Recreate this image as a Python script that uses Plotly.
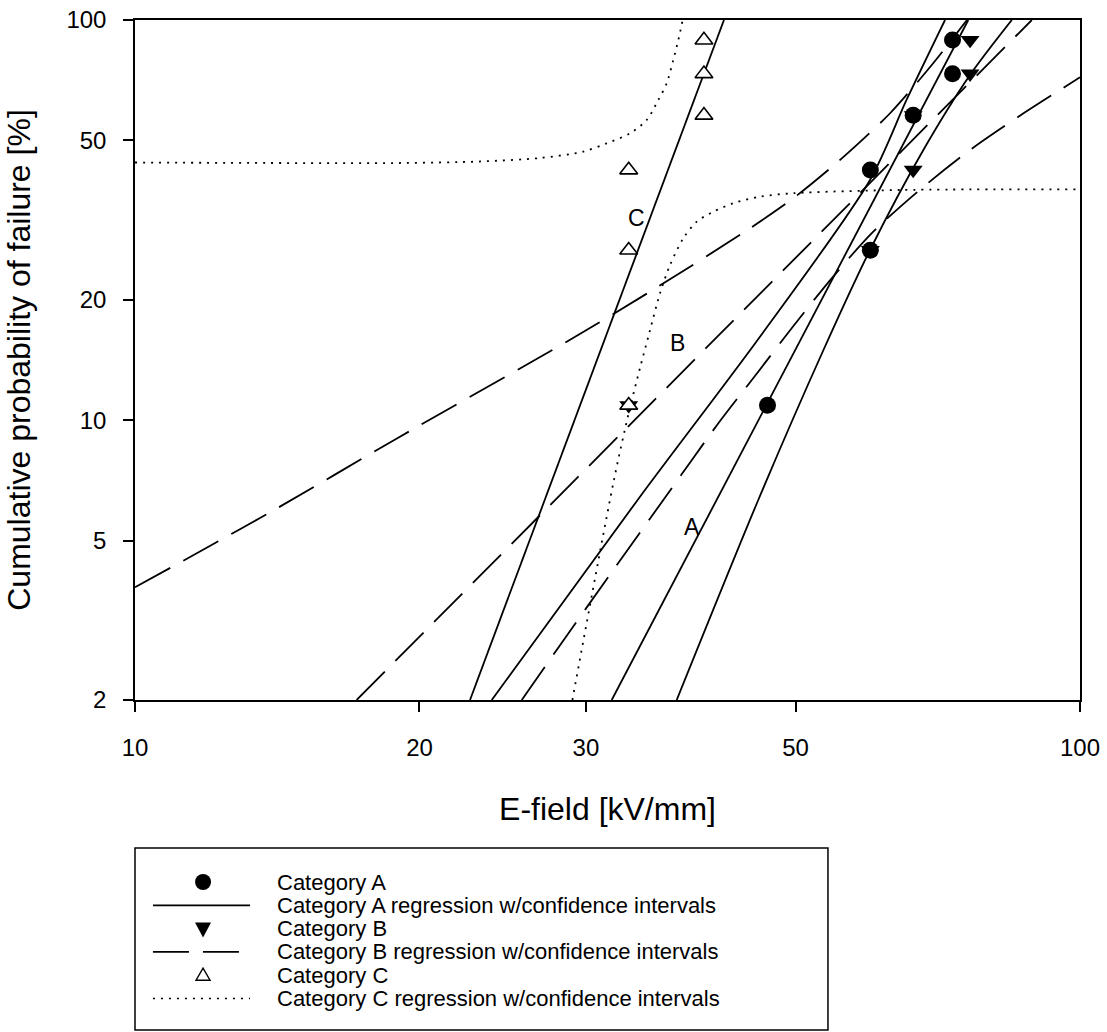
import numpy as np
import plotly.graph_objects as go

# ---------------- data ----------------
prob = [10.9, 26.6, 42.2, 57.8, 73.4, 89.1]          # cumulative probability [%]
a_field = [46.7, 60.0, 60.0, 66.6, 73.3, 73.3]       # Category A, kV/mm
b_field = [33.3, 60.0, 66.6, 66.6, 76.5, 76.5]       # Category B
c_field = [33.3, 33.3, 33.3, 40.0, 40.0, 40.0]       # Category C

# Category A regression and confidence bands
a_reg_x = [31.95, 76.17]
a_reg_y = [2, 100]
a_ciu_x = [23.85, 34.23, 45.85, 59.95, 65.6, 71.97]
a_ciu_y = [2, 6.442, 16.17, 39.84, 63.48, 100]
a_cil_x = [37.43, 45.66, 53.52, 59.95, 68.27, 76.49, 84.69]
a_cil_y = [2, 6.321, 14.98, 26.63, 47.34, 72.88, 100]

# Category B regression and confidence bands
b_reg_x = [17.16, 88.92]
b_reg_y = [2, 100]
b_ciu_x = [10.0, 13.78, 19.07, 28.63, 35.07, 44.20, 49.72, 54.41, 57.79, 62.95, 69.68, 75.93]
b_ciu_y = [3.825, 5.822, 9.096, 15.71, 20.95, 29.59, 35.86, 42.61, 48.25, 58.48, 77.19, 100]
b_cil_x = [25.66, 27.94, 32.07, 36.23, 41.43, 45.29, 49.53, 54.41, 60.43, 68.0, 76.49, 86.06, 96.81, 100.0]
b_cil_y = [2, 2.667, 4.226, 6.321, 9.826, 12.90, 16.97, 22.40, 29.59, 37.98, 47.34, 57.32, 68.53, 71.96]

# Category C regression and confidence bands
c_reg_x = [22.62, 42.0]
c_reg_y = [2, 100]
c_ciu_x = [10.0, 19.07, 23.18, 26.83, 29.79, 31.56, 33.41, 34.79, 35.79, 36.53, 37.12, 37.58, 37.98]
c_ciu_y = [44.05, 43.93, 44.31, 45.21, 46.88, 49.20, 52.11, 56.25, 63.11, 69.48, 79.44, 89.15, 100]
c_cil_x = [29.03, 32.07, 33.30, 34.23, 34.93, 35.94, 36.83, 38.04, 39.30, 40.92, 42.96, 45.85, 49.72, 64.5, 100.0]
c_cil_y = [2, 6.958, 10.43, 13.51, 16.17, 20.76, 24.43, 28.49, 31.34, 33.19, 34.84, 36.19, 36.92, 37.61, 37.76]

# in-plot labels
label_text = ["A", "B", "C"]
label_x = [38.86, 37.46, 33.90]
label_y = [5.41, 15.6, 32.0]

x_ticks = [10, 20, 30, 50, 100]
y_ticks = [2, 5, 10, 20, 50, 100]

legend_labels = [
    "Category A",
    "Category A regression w/confidence intervals",
    "Category B",
    "Category B regression w/confidence intervals",
    "Category C",
    "Category C regression w/confidence intervals",
]

FONT = "Arial, Liberation Sans, Helvetica, sans-serif"
LW = 1.8
DASH = "40px,15px"
DOT = "2px,6px"

fig = go.Figure()


def add_line(x, y, dash, spline=False):
    fig.add_trace(go.Scatter(
        x=x, y=y, mode="lines",
        line=dict(color="black", width=LW, dash=dash,
                  shape="spline" if spline else "linear", smoothing=0.8),
        showlegend=False, hoverinfo="skip"))


# Category A lines (solid)
add_line(a_reg_x, a_reg_y, "solid")
add_line(a_ciu_x, a_ciu_y, "solid", True)
add_line(a_cil_x, a_cil_y, "solid", True)
# Category B lines (dashed)
add_line(b_reg_x, b_reg_y, DASH)
add_line(b_ciu_x, b_ciu_y, DASH, True)
add_line(b_cil_x, b_cil_y, DASH, True)
# Category C lines (solid regression, dotted bands)
add_line(c_reg_x, c_reg_y, "solid")
add_line(c_ciu_x, c_ciu_y, DOT, True)
add_line(c_cil_x, c_cil_y, DOT, True)

# markers: B below A, C on top
fig.add_trace(go.Scatter(x=b_field, y=prob, mode="markers", name="Category B",
                         marker=dict(symbol="triangle-down", size=16.5, color="black",
                                     line=dict(width=0)), showlegend=False))
fig.add_trace(go.Scatter(x=a_field, y=prob, mode="markers", name="Category A",
                         marker=dict(symbol="circle", size=17, color="black",
                                     line=dict(width=0)), showlegend=False))
fig.add_trace(go.Scatter(x=c_field, y=prob, mode="markers", name="Category C",
                         marker=dict(symbol="triangle-up", size=15.5, color="white",
                                     line=dict(width=1.6, color="black")), showlegend=False))

annotations = []
for t, lx, ly in zip(label_text, label_x, label_y):
    annotations.append(dict(x=np.log10(lx), y=np.log10(ly), xref="x", yref="y",
                            text=t, showarrow=False,
                            font=dict(family=FONT, size=23, color="black")))

# ---------------- custom legend ----------------
leg_left, leg_right = 0.0, 0.7333
leg_top, leg_bottom = -0.2176, -0.4853
row_y = [-0.26765, -0.30191, -0.33618, -0.37044, -0.40471, -0.43897]
text_x = 0.1481
sym_x = 0.0720
line_x0, line_x1 = 0.019, 0.1217

shapes = [dict(type="rect", xref="paper", yref="paper",
               x0=leg_left, x1=leg_right, y0=leg_bottom, y1=leg_top,
               line=dict(color="black", width=1.5), fillcolor="rgba(0,0,0,0)")]

for lbl, ry in zip(legend_labels, row_y):
    annotations.append(dict(x=text_x, y=ry, xref="paper", yref="paper",
                            xanchor="left", yanchor="middle", text=lbl,
                            showarrow=False,
                            font=dict(family=FONT, size=22, color="black")))

# legend symbols
shapes.append(dict(type="circle", xref="paper", yref="paper",
                   xsizemode="pixel", ysizemode="pixel",
                   xanchor=sym_x, yanchor=row_y[0], x0=-8, x1=8, y0=-8, y1=8,
                   fillcolor="black", line=dict(color="black", width=0)))
shapes.append(dict(type="path", xref="paper", yref="paper",
                   xsizemode="pixel", ysizemode="pixel",
                   xanchor=sym_x, yanchor=row_y[2],
                   path="M-8,6 L8,6 L0,-9 Z",
                   fillcolor="black", line=dict(color="black", width=0)))
shapes.append(dict(type="path", xref="paper", yref="paper",
                   xsizemode="pixel", ysizemode="pixel",
                   xanchor=sym_x, yanchor=row_y[4],
                   path="M-7,-5 L7,-5 L0,7 Z",
                   fillcolor="white", line=dict(color="black", width=1.4)))
shapes.append(dict(type="line", xref="paper", yref="paper",
                   x0=line_x0, x1=line_x1, y0=row_y[1], y1=row_y[1],
                   line=dict(color="black", width=LW)))
shapes.append(dict(type="line", xref="paper", yref="paper",
                   x0=line_x0, x1=0.1122, y0=row_y[3], y1=row_y[3],
                   line=dict(color="black", width=LW, dash="36px,14px")))
shapes.append(dict(type="line", xref="paper", yref="paper",
                   x0=line_x0, x1=line_x1, y0=row_y[5], y1=row_y[5],
                   line=dict(color="black", width=1.4, dash=DOT)))

axis_common = dict(
    showgrid=False, zeroline=False, automargin=False,
    showline=True, linecolor="black", linewidth=1.5, mirror=True,
    ticks="outside", ticklen=10, tickwidth=1.5, tickcolor="black",
    tickfont=dict(family=FONT, size=24, color="black"),
)

fig.update_layout(
    width=1107, height=1032,
    margin=dict(l=135, r=27, t=20, b=332),
    paper_bgcolor="white", plot_bgcolor="white",
    showlegend=False,
    xaxis=dict(type="log", range=[1, 2], tickvals=x_ticks,
               ticktext=[str(v) for v in x_ticks], ticklabelstandoff=15,
               title=dict(text="E-field [kV/mm]", standoff=38,
                          font=dict(family=FONT, size=32, color="black")),
               **axis_common),
    yaxis=dict(type="log", range=[np.log10(2), 2], tickvals=y_ticks,
               ticktext=[str(v) for v in y_ticks], ticklabelstandoff=12,
               title=dict(text="Cumulative probability of failure [%]", standoff=26,
                          font=dict(family=FONT, size=32, color="black")),
               **axis_common),
    annotations=annotations,
    shapes=shapes,
)

fig.write_html("out.html")
